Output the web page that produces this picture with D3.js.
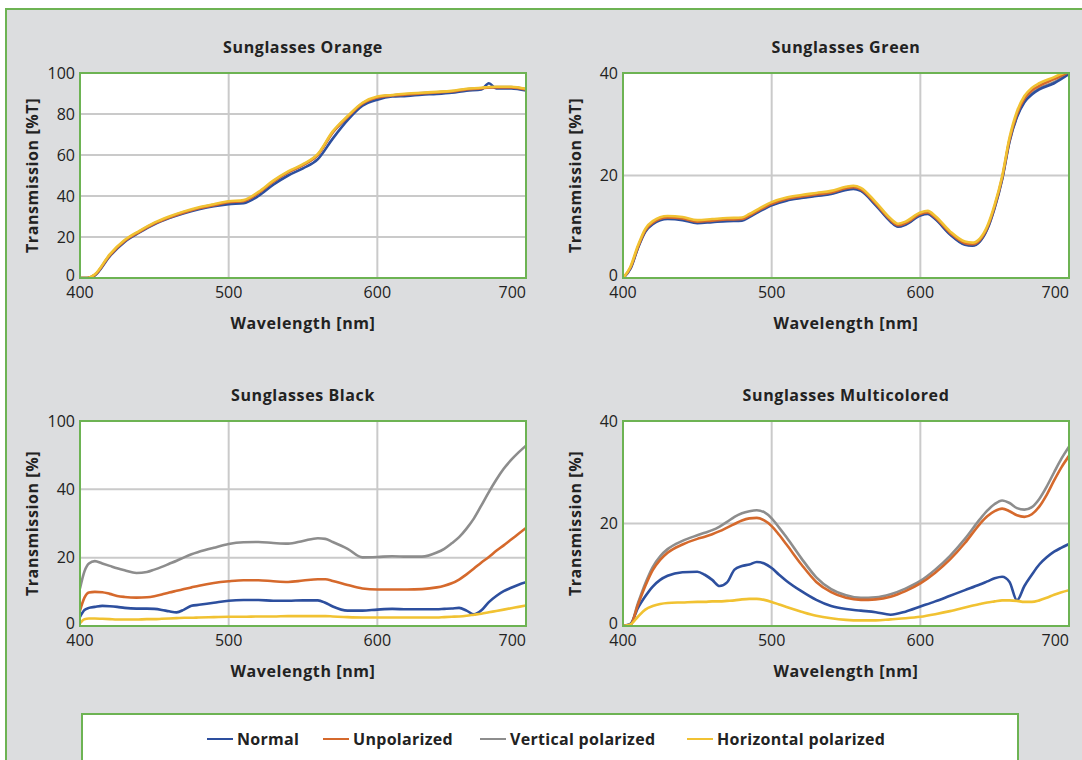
<!DOCTYPE html>
<html>
<head>
<meta charset="utf-8">
<script src="https://cdn.jsdelivr.net/npm/d3@7"></script>
<style>
    body { margin: 0; background: #ffffff; }
    svg { display: block; font-family: "Open Sans", sans-serif; }
</style>
</head>
<body>
<svg id="chart" width="1082" height="760"></svg>
<script>
// ---- data ----

const seriesNames = ["Normal", "Unpolarized", "Vertical polarized", "Horizontal polarized"];
const seriesColors = ["#2d4f9e", "#d5692c", "#8d8d8d", "#f1c232"];

const xTicks = [400, 500, 600, 700];

// Sunglasses Orange
const orangeWl = [400, 405, 410, 420, 430, 440, 450, 460, 470, 480, 490, 500, 510, 520, 530, 540, 550, 560, 570, 580, 590, 600, 610, 620, 630, 640, 650, 660, 670, 675, 680, 690, 700];
const orangeNormal = [0, 0, 1.3, 10.6, 17.6, 22.2, 26.2, 29.2, 31.6, 33.5, 35, 36, 36.5, 40, 45.5, 50, 53.5, 58, 68, 77, 84, 87, 88.5, 88.8, 89.4, 89.8, 90.4, 91.4, 92, 95, 92.5, 92.5, 91.5];
const orangeUnpolarized = [0, 0, 1.5, 11, 18, 22.5, 26.5, 29.5, 32, 34, 35.5, 37, 37.5, 41.5, 47, 51.5, 55, 60, 71, 78.5, 85, 88, 89, 89.5, 90, 90.5, 91, 92, 92.5, 93, 93, 93, 92];
const orangeVertical = [0, 0, 1.5, 11.2, 18.2, 22.7, 26.7, 29.7, 32.2, 34.2, 35.7, 37, 37.6, 41.6, 47, 51.6, 55.2, 60.2, 71, 78.6, 85.2, 88.2, 89.1, 89.6, 90.2, 90.6, 91.1, 92.1, 92.6, 93, 93.1, 93.1, 92.1];
const orangeHorizontal = [0, 0, 1.8, 11.5, 18.5, 23, 27, 30, 32.5, 34.5, 36, 37.4, 38, 42, 47.5, 52, 55.5, 60.5, 71.5, 79, 85.5, 88.5, 89.3, 90, 90.4, 90.8, 91.3, 92.3, 92.8, 93.2, 93.3, 93.3, 92.3];
const orangeYTicks = [0, 20, 40, 60, 80, 100];
const orangeYLabels = ["0", "20", "40", "60", "80", "100"];

// Sunglasses Green
const greenWl = [400, 405, 410, 415, 420, 430, 440, 450, 460, 470, 480, 485, 490, 500, 510, 520, 530, 540, 550, 555, 560, 570, 580, 585, 590, 600, 605, 610, 620, 630, 635, 640, 645, 650, 655, 660, 665, 670, 675, 680, 690, 700];
const greenNormal = [0, 1.8, 5.8, 9, 10.5, 11.5, 11.3, 10.7, 10.9, 11.1, 11.2, 11.9, 12.7, 14.2, 15.1, 15.6, 16, 16.4, 17.2, 17.4, 17, 14.2, 11, 10, 10.4, 12.2, 12.5, 11.5, 8.5, 6.5, 6.3, 7.1, 9.5, 13.7, 19.2, 26.6, 31.4, 34.3, 35.8, 36.8, 38, 39.8];
const greenUnpolarized = [0, 2, 6, 9.3, 10.8, 11.8, 11.6, 11, 11.2, 11.4, 11.5, 12.2, 13, 14.5, 15.4, 15.9, 16.3, 16.7, 17.5, 17.7, 17.3, 14.5, 11.3, 10.3, 10.7, 12.5, 12.8, 11.8, 8.8, 6.8, 6.6, 7.4, 9.8, 14, 19.5, 27, 32, 35, 36.6, 37.5, 38.8, 40.2];
const greenVertical = [0, 1.9, 5.9, 9.2, 10.7, 11.7, 11.5, 10.9, 11.1, 11.3, 11.4, 12.1, 12.9, 14.3, 15.2, 15.7, 16.1, 16.5, 17.3, 17.5, 17.1, 14.3, 11.1, 10.1, 10.5, 12.3, 12.6, 11.6, 8.6, 6.6, 6.4, 7.2, 9.6, 13.8, 19.3, 26.8, 31.6, 34.5, 36, 37, 38.2, 40];
const greenHorizontal = [0, 2.2, 6.3, 9.6, 11.1, 12.1, 11.9, 11.3, 11.5, 11.7, 11.8, 12.5, 13.3, 14.8, 15.7, 16.2, 16.6, 17, 17.8, 18, 17.6, 14.8, 11.6, 10.6, 11, 12.8, 13.1, 12.1, 9.1, 7.1, 6.9, 7.7, 10.1, 14.3, 19.8, 27.4, 32.5, 35.5, 37.1, 38, 39.2, 40.5];
const greenYTicks = [0, 20, 40];
const greenYLabels = ["0", "20", "40"];

// Sunglasses Black
const blackWl = [400, 403, 406, 410, 415, 420, 425, 430, 438, 445, 450, 455, 460, 465, 470, 475, 480, 490, 500, 510, 520, 530, 540, 550, 560, 565, 570, 580, 590, 600, 610, 620, 630, 640, 645, 650, 655, 660, 665, 670, 675, 680, 685, 690, 695, 700];
const blackNormal = [2.7, 4.7, 5.3, 5.6, 5.9, 5.8, 5.6, 5.3, 5.1, 5.1, 5, 4.7, 4.3, 4, 4.8, 5.9, 6.2, 6.8, 7.4, 7.6, 7.6, 7.4, 7.4, 7.5, 7.5, 6.8, 5.7, 4.5, 4.5, 4.8, 5, 4.9, 4.9, 4.9, 5, 5.1, 5.3, 4.5, 3.4, 4.6, 7, 8.8, 10.2, 11.2, 12.1, 12.8];
const blackUnpolarized = [4.5, 8.3, 9.8, 10, 9.9, 9.4, 8.8, 8.5, 8.3, 8.4, 8.7, 9.2, 9.8, 10.3, 10.8, 11.3, 11.8, 12.6, 13.1, 13.4, 13.4, 13.1, 12.9, 13.3, 13.7, 13.7, 13.2, 12, 11, 10.7, 10.7, 10.7, 10.8, 11.3, 11.8, 12.5, 13.6, 15.1, 16.8, 18.6, 20.2, 22, 23.6, 25.3, 27, 28.7];
const blackVertical = [11, 16, 18.3, 19, 18.3, 17.6, 16.9, 16.3, 15.5, 15.8, 16.5, 17.3, 18.2, 19.1, 20.1, 21, 21.7, 22.9, 24, 24.5, 24.6, 24.3, 24.1, 24.9, 25.7, 25.5, 24.6, 22.6, 20.1, 20.2, 20.4, 20.3, 20.3, 21.5, 22.6, 24.2, 26, 28.5, 31.5, 35.3, 39.2, 42.8, 46, 48.6, 50.8, 52.8];
const blackHorizontal = [0.8, 2, 2.2, 2.2, 2.1, 2, 1.9, 1.9, 1.9, 2, 2, 2.1, 2.2, 2.3, 2.4, 2.4, 2.5, 2.6, 2.7, 2.7, 2.8, 2.8, 2.9, 2.9, 2.9, 2.9, 2.8, 2.6, 2.5, 2.5, 2.5, 2.5, 2.5, 2.5, 2.6, 2.7, 2.8, 3, 3.3, 3.6, 4, 4.4, 4.8, 5.2, 5.6, 6];
const blackYTicks = [0, 20, 40, 60];
const blackYLabels = ["0", "20", "40", "100"];

// Sunglasses Multicolored
const multiWl = [400, 405, 410, 415, 420, 425, 430, 440, 450, 455, 460, 465, 470, 475, 480, 485, 490, 495, 500, 505, 510, 520, 530, 540, 550, 560, 570, 580, 590, 600, 610, 620, 630, 640, 645, 650, 655, 660, 665, 670, 675, 680, 685, 690, 695, 700];
const multiNormal = [0, 0.4, 3.5, 5.8, 7.7, 9, 9.8, 10.5, 10.6, 10, 9, 7.8, 8.5, 11, 11.7, 12, 12.5, 12.2, 11.3, 10, 8.8, 6.8, 5.1, 3.9, 3.3, 3, 2.7, 2.2, 2.8, 3.8, 4.8, 5.9, 7, 8.1, 8.7, 9.3, 9.6, 8.6, 5, 7.8, 10, 12, 13.4, 14.5, 15.3, 16];
const multiUnpolarized = [0, 0.2, 4.1, 7.8, 10.9, 12.9, 14.3, 15.9, 17, 17.4, 17.9, 18.5, 19.2, 19.9, 20.6, 21, 21.1, 20.6, 19.5, 17.8, 15.9, 12, 8.6, 6.6, 5.5, 5.1, 5.2, 5.7, 6.8, 8.3, 10.4, 13, 16.2, 19.9, 21.4, 22.4, 22.9, 22.4, 21.6, 21.3, 21.8, 23.3, 25.6, 28.4, 31, 33.2];
const multiVertical = [0, 0.2, 4.4, 8.3, 11.5, 13.6, 15, 16.6, 17.7, 18.2, 18.7, 19.4, 20.3, 21.3, 22, 22.4, 22.6, 22.2, 21, 19.2, 17.3, 13.2, 9.5, 7.2, 6, 5.5, 5.6, 6.2, 7.3, 8.8, 11, 13.7, 17, 20.8, 22.5, 23.8, 24.5, 24, 23, 22.7, 23.2, 24.8, 27.2, 30, 32.7, 35];
const multiHorizontal = [0, 0.3, 1.8, 3.2, 3.9, 4.3, 4.5, 4.6, 4.7, 4.7, 4.8, 4.8, 4.9, 5, 5.2, 5.3, 5.3, 5.1, 4.7, 4.2, 3.7, 2.8, 2, 1.5, 1.2, 1.1, 1.1, 1.3, 1.5, 1.8, 2.3, 2.9, 3.6, 4.3, 4.6, 4.8, 5, 5, 4.9, 4.7, 4.7, 5, 5.5, 6.1, 6.6, 7];
const multiYTicks = [0, 20, 40];
const multiYLabels = ["0", "20", "40"];

// ---- layout ----

const svg = d3.select("#chart");
const green = "#6db353";
const grid = "#cacaca";

// page frame
svg.append("rect")
    .attr("x", 6).attr("y", 9)
    .attr("width", 1090).attr("height", 770)
    .attr("fill", "#dcdddf")
    .attr("stroke", green)
    .attr("stroke-width", 2);

const panels = [
    {title: "Sunglasses Orange", yLabel: "Transmission [%T]", left: 80, top: 73, wl: orangeWl,
     series: [orangeNormal, orangeUnpolarized, orangeVertical, orangeHorizontal],
     yTicks: orangeYTicks, yLabels: orangeYLabels},
    {title: "Sunglasses Green", yLabel: "Transmission [%T]", left: 623, top: 73, wl: greenWl,
     series: [greenNormal, greenUnpolarized, greenVertical, greenHorizontal],
     yTicks: greenYTicks, yLabels: greenYLabels},
    {title: "Sunglasses Black", yLabel: "Transmission [%]", left: 80, top: 421, wl: blackWl,
     series: [blackNormal, blackUnpolarized, blackVertical, blackHorizontal],
     yTicks: blackYTicks, yLabels: blackYLabels},
    {title: "Sunglasses Multicolored", yLabel: "Transmission [%]", left: 623, top: 421, wl: multiWl,
     series: [multiNormal, multiUnpolarized, multiVertical, multiHorizontal],
     yTicks: multiYTicks, yLabels: multiYLabels}
];

const plotW = 446;
const plotH = 205;
const drawOrder = [2, 0, 1, 3];

function drawPanel(p, idx) {
    const g = svg.append("g").attr("transform", `translate(${p.left},${p.top})`);

    const x = d3.scaleLinear().domain([400, 700]).range([0, plotW]);
    const y = d3.scaleLinear().domain([0, d3.max(p.yTicks)]).range([plotH, 0]);

    g.append("rect")
        .attr("width", plotW).attr("height", plotH)
        .attr("fill", "#ffffff");

    // grid
    g.selectAll(".hgrid")
        .data(p.yTicks.slice(1, -1))
        .join("line")
        .attr("x1", 0).attr("x2", plotW)
        .attr("y1", d => y(d)).attr("y2", d => y(d))
        .attr("stroke", grid).attr("stroke-width", 2);

    g.selectAll(".vgrid")
        .data(xTicks.slice(1, -1))
        .join("line")
        .attr("x1", d => x(d)).attr("x2", d => x(d))
        .attr("y1", 0).attr("y2", plotH)
        .attr("stroke", grid).attr("stroke-width", 2);

    // curves
    const clipId = `clip-${idx}`;
    g.append("clipPath").attr("id", clipId)
        .append("rect").attr("width", plotW).attr("height", plotH);

    const line = d3.line()
        .curve(d3.curveMonotoneX)
        .x(d => x(d[0]))
        .y(d => y(d[1]));

    const lines = g.append("g").attr("clip-path", `url(#${clipId})`);
    drawOrder.forEach(i => {
        const pts = p.wl.map((w, k) => [w, p.series[i][k]]);
        lines.append("path")
            .attr("d", line(pts))
            .attr("fill", "none")
            .attr("stroke", seriesColors[i])
            .attr("stroke-width", 2.6)
            .attr("stroke-linejoin", "round");
    });

    // frame
    g.append("rect")
        .attr("width", plotW).attr("height", plotH)
        .attr("fill", "none")
        .attr("stroke", green)
        .attr("stroke-width", 2);

    // tick labels
    g.selectAll(".xlab")
        .data(xTicks)
        .join("text")
        .attr("x", d => x(d))
        .attr("y", plotH + 20)
        .attr("text-anchor", (d, i) => i === xTicks.length - 1 ? "end" : "middle")
        .attr("font-size", 16)
        .attr("fill", "#222")
        .text(d => d);

    g.selectAll(".ylab")
        .data(p.yTicks)
        .join("text")
        .attr("x", -5)
        .attr("y", d => y(d))
        .attr("dy", (d, i) => i === 0 ? "0.2em" : "0.35em")
        .attr("text-anchor", "end")
        .attr("font-size", 16)
        .attr("fill", "#222")
        .text((d, i) => p.yLabels[i]);

    // titles
    g.append("text")
        .attr("x", plotW / 2).attr("y", -20)
        .attr("text-anchor", "middle")
        .attr("font-size", 16).attr("font-weight", "bold")
        .attr("letter-spacing", 0.6)
        .attr("fill", "#222")
        .text(p.title);

    g.append("text")
        .attr("x", plotW / 2).attr("y", plotH + 51)
        .attr("text-anchor", "middle")
        .attr("font-size", 16).attr("font-weight", "bold")
        .attr("letter-spacing", 0.6)
        .attr("fill", "#222")
        .text("Wavelength [nm]");

    g.append("text")
        .attr("transform", `translate(-42,${plotH / 2}) rotate(-90)`)
        .attr("text-anchor", "middle")
        .attr("font-size", 16).attr("font-weight", "bold")
        .attr("letter-spacing", 0.6)
        .attr("fill", "#222")
        .text(p.yLabel);
}

panels.forEach(drawPanel);

// legend
svg.append("rect")
    .attr("x", 82).attr("y", 714)
    .attr("width", 936).attr("height", 70)
    .attr("fill", "#ffffff")
    .attr("stroke", green)
    .attr("stroke-width", 2);

const legendX = [207, 323, 480, 687];
const legend = svg.append("g");
seriesNames.forEach((name, i) => {
    legend.append("line")
        .attr("x1", legendX[i]).attr("x2", legendX[i] + 26)
        .attr("y1", 739).attr("y2", 739)
        .attr("stroke", seriesColors[i])
        .attr("stroke-width", 2);
    legend.append("text")
        .attr("x", legendX[i] + 30)
        .attr("y", 739)
        .attr("dy", "0.35em")
        .attr("font-size", 16).attr("font-weight", "bold")
        .attr("letter-spacing", 0.3)
        .attr("fill", "#222")
        .text(name);
});
</script>
</body>
</html>
